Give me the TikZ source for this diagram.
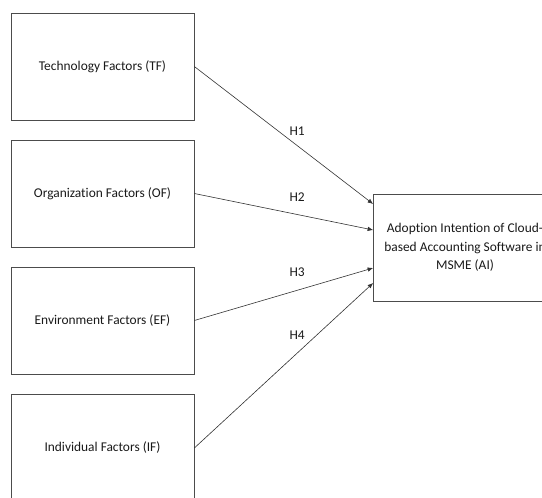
\documentclass[tikz,border=0pt]{standalone}
\usepackage{fontspec}
\setmainfont{Carlito}[RawFeature=-liga]
\usetikzlibrary{arrows.meta}

\begin{document}
\begin{tikzpicture}[
    x=1pt, y=-1pt,
    box/.style={rectangle, draw=black!70, line width=0.7pt, minimum width=183pt, minimum height=107pt, align=center, inner sep=0pt, text=black!90, font=\fontsize{13.4}{18.5}\selectfont},
    factor/.style={box},
    target/.style={box},
    hyp/.style={text=black!90, font=\fontsize{13.4}{16}\selectfont},
    arrow/.style={-{Latex[length=5.5pt,width=4.5pt]}, draw=black!80, line width=0.6pt}
]
\clip (0,0) rectangle (542,498);

% Factors
\node[factor] (technology) at (102.5,66.5) {Technology Factors (TF)};
\node[factor] (organization) at (102.5,193.5) {Organization Factors (OF)};
\node[factor] (environment) at (102.5,320.5) {Environment Factors (EF)};
\node[factor] (individual) at (102.5,448) {Individual Factors (IF)};

% Adoption intention
\node[target] (adoption) at (465,247.5) {Adoption Intention of Cloud-\\based Accounting Software in\\MSME (AI)};

% Hypotheses
\draw[arrow] (technology.east) -- node[hyp, pos=0.575, yshift=14pt] (h1) {H1} ([yshift=43.5pt]adoption.west);
\draw[arrow] (organization.east) -- node[hyp, pos=0.575, yshift=17pt] (h2) {H2} ([yshift=17.5pt]adoption.west);
\draw[arrow] (environment.east) -- node[hyp, pos=0.575, yshift=18pt] (h3) {H3} ([yshift=-20.5pt]adoption.west);
\draw[arrow] (individual.east) -- node[hyp, pos=0.575, yshift=18pt] (h4) {H4} ([yshift=-35.5pt]adoption.west);

\end{tikzpicture}
\end{document}
